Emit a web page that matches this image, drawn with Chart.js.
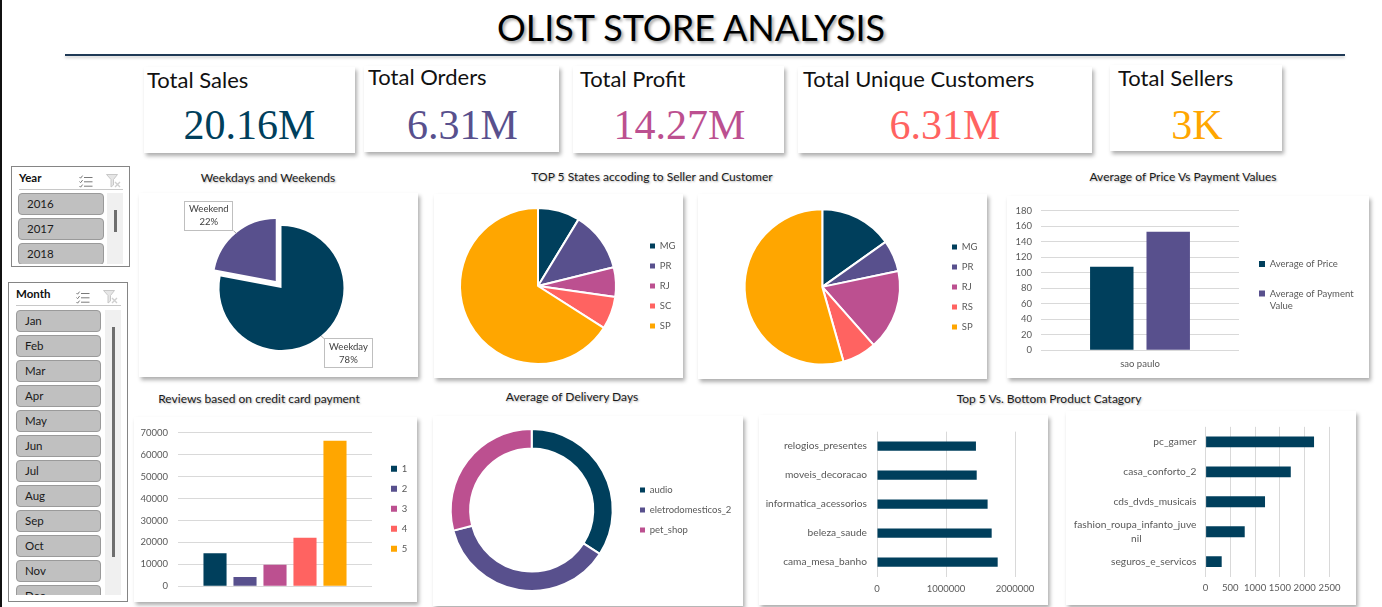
<!DOCTYPE html>
<html><head><meta charset="utf-8">
<script src="https://cdn.jsdelivr.net/npm/chart.js@4.4.1/dist/chart.umd.min.js"></script>
<style>
html,body{margin:0;padding:0;background:#fff;}
body{width:1382px;height:607px;position:relative;overflow:hidden;font-family:Lato,'Open Sans',sans-serif;}
.card{position:absolute;background:#fff;box-shadow:2px 3px 4px rgba(0,0,0,0.32);}
.card canvas{position:absolute;left:0;top:0;}
.kl{position:absolute;font-size:22px;line-height:26.4px;color:#111;white-space:nowrap;}
.kv{position:absolute;font-family:'Liberation Serif','Times New Roman',serif;font-size:42px;line-height:48px;white-space:nowrap;transform:translateX(-50%);}
.ct{position:absolute;font-size:12px;line-height:14px;color:#1a1a1a;white-space:nowrap;transform:translate(-50%,-50%);text-shadow:1px 1px 2px rgba(0,0,0,0.3);}
.slicer{position:absolute;border:1px solid #858585;box-sizing:border-box;background:#fff;}
.sh{position:absolute;font-weight:bold;font-size:11.5px;line-height:14px;color:#111;transform:translateY(-50%);}
.sline{position:absolute;height:1px;background:#c8c8c8;}
.sbtns{position:absolute;overflow:hidden;}
.sbtn{position:absolute;left:0;height:22px;box-sizing:border-box;background:#c0c0c0;border:1px solid #9a9a9a;border-radius:4px;font-size:11.5px;line-height:20px;padding-left:8px;color:#1a1a1a;}
.strack{position:absolute;background:#f0f0f0;}
.sthumb{position:absolute;background:#6e6e6e;}
.icon{position:absolute;}
</style>
</head>
<body>
<div style="position:absolute;left:0;top:0;width:2px;height:607px;background:#111;"></div>
<div style="position:absolute;left:0;width:1382px;top:6px;text-align:center;font-size:36px;line-height:43.2px;color:#000;text-shadow:2px 2px 3px rgba(0,0,0,0.35);">OLIST STORE ANALYSIS</div>
<div style="position:absolute;left:65px;top:54px;width:1280px;height:1.5px;background:#1f3a56;box-shadow:0 2px 3px rgba(0,0,0,0.2);"></div>
<div id="kpis"></div>
<div id="slicers"></div>

<div class="ct" style="left:268px;top:178px;">Weekdays and Weekends</div>
<div class="ct" style="left:652px;top:177px;">TOP 5 States accoding to Seller and Customer</div>
<div class="ct" style="left:1183px;top:177px;">Average of Price Vs Payment Values</div>
<div class="ct" style="left:259px;top:399px;">Reviews based on credit card payment</div>
<div class="ct" style="left:572px;top:397px;">Average of Delivery Days</div>
<div class="ct" style="left:1049px;top:399px;">Top 5 Vs. Bottom Product Catagory</div>

<div class="card" style="left:139px;top:193px;width:279px;height:184px;"><canvas id="c1" width="279" height="184"></canvas></div>
<div class="card" style="left:434px;top:194px;width:249px;height:184px;"><canvas id="c2" width="289" height="184"></canvas></div>
<div class="card" style="left:698px;top:194px;width:289px;height:185px;"><canvas id="c3" width="329" height="185"></canvas></div>
<div class="card" style="left:1007px;top:196px;width:362px;height:182px;"><canvas id="c4" width="402" height="182"></canvas></div>
<div class="card" style="left:134px;top:417px;width:283px;height:185px;"><canvas id="c5" width="323" height="185"></canvas></div>
<div class="card" style="left:433px;top:416px;width:310px;height:190px;"><canvas id="c6" width="350" height="190"></canvas></div>
<div class="card" style="left:759px;top:415px;width:289px;height:190px;"><canvas id="c7" width="289" height="190"></canvas></div>
<div class="card" style="left:1066px;top:411px;width:290px;height:194px;"><canvas id="c8" width="290" height="194"></canvas></div>

<script>
// ---------------- DATA ----------------
const kpiTitles = ['Total Sales','Total Orders','Total Profit','Total Unique Customers','Total Sellers'];
const kpiValues = ['20.16M','6.31M','14.27M','6.31M','3K'];
const years = ['2016','2017','2018'];
const months = ['Jan','Feb','Mar','Apr','May','Jun','Jul','Aug','Sep','Oct','Nov','Dec'];

const dayTypes = ['Weekday','Weekend'];
const dayShare = [78, 22];

const sellerStates = ['MG','PR','RJ','SC','SP'];
const sellerCounts = [244, 349, 171, 190, 1849];

const customerStates = ['MG','PR','RJ','RS','SP'];
const customerCounts = [11635, 5045, 12852, 5466, 41746];

const cityLabels = ['sao paulo'];
const avgPrice = [107.6];
const avgPayment = [153];
const priceTicks = {min:0, max:180, step:20};

const reviewScores = ['1','2','3','4','5'];
const reviewCounts = [15100, 4200, 9800, 22100, 66300];
const reviewTicks = {min:0, max:70000, step:10000};

const deliveryCats = ['audio','eletrodomesticos_2','pet_shop'];
const deliveryDays = [12.9, 13.9, 11.0];

const topCats = ['relogios_presentes','moveis_decoracao','informatica_acessorios','beleza_saude','cama_mesa_banho'];
const topSales = [1434000, 1445000, 1603000, 1662000, 1749000];
const topTicks = {min:0, max:2000000, step:1000000};

const bottomCats = ['pc_gamer','casa_conforto_2','cds_dvds_musicais','fashion_roupa_infanto_juvenil','seguros_e_servicos'];
const bottomSales = [2190, 1720, 1200, 790, 325];
const bottomTicks = {min:0, max:2500, step:500};

// ---------------- STYLE ----------------
const palette = ['#003f5c','#58508d','#bc5090','#ff6361','#ffa600'];
const gridColor = '#d9d9d9';

// KPI cards
const kpiLayout = [
  {l:144,t:67,w:211,h:86, lx:147, lb:89, vc:249.5},
  {l:364,t:66,w:195,h:86, lx:368, lb:86, vc:462.5},
  {l:573,t:66,w:211,h:87, lx:580, lb:88, vc:679.5},
  {l:798,t:67,w:294,h:86, lx:803, lb:87.5, vc:945},
  {l:1110,t:65,w:172,h:86, lx:1118, lb:86.5, vc:1197}
];
const kpiHost = document.getElementById('kpis');
kpiTitles.forEach((t,i)=>{
  const L = kpiLayout[i];
  const card = document.createElement('div');
  card.className='card'; card.style.cssText=`left:${L.l}px;top:${L.t}px;width:${L.w}px;height:${L.h}px;`;
  kpiHost.appendChild(card);
  const lab = document.createElement('div');
  lab.className='kl'; lab.textContent=t; lab.style.left=L.lx+'px'; lab.style.top=(L.lb-21.7)+'px';
  kpiHost.appendChild(lab);
  const val = document.createElement('div');
  val.className='kv'; val.textContent=kpiValues[i]; val.style.left=L.vc+'px'; val.style.top=(139.5-38.2)+'px';
  val.style.color=palette[i];
  kpiHost.appendChild(val);
});

// Slicers
const iconMulti = '<svg width="14" height="13" viewBox="0 0 14 13"><g stroke="#7a7a7a" fill="none" stroke-width="1"><path d="M0.5 2 L1.6 3.2 L3.6 0.6"/><path d="M5 2.5 H13.5"/><path d="M0.5 6.5 L1.6 7.7 L3.6 5.1"/><path d="M5 6.8 H13.5"/><path d="M0.5 11 L1.6 12.2 L3.6 9.6"/><path d="M5 11.2 H13.5"/></g></svg>';
const iconClear = '<svg width="15" height="14" viewBox="0 0 15 14"><path d="M0.5 0.5 H11.5 L7.5 5.5 V11 L5 13 V5.5 Z" fill="#e6e6e6" stroke="#c8c8c8"/><path d="M9 8 L14 13 M14 8 L9 13" stroke="#cfcfcf" stroke-width="1.4"/></svg>';
function buildSlicer(o){
  const s = document.createElement('div');
  s.className='slicer'; s.style.cssText=`left:${o.l}px;top:${o.t}px;width:${o.w}px;height:${o.h}px;`;
  s.innerHTML = `<div class="sh" style="left:7px;top:11px;">${o.title}</div>
   <div class="icon" style="left:${o.i1}px;top:5px;">${iconMulti}</div>
   <div class="icon" style="left:${o.i2}px;top:5px;">${iconClear}</div>
   <div class="sline" style="left:7px;top:22px;width:${o.lw}px;"></div>
   <div class="strack" style="left:${o.tx}px;top:${o.bt}px;width:16px;height:${o.bh}px;"></div>
   <div class="sthumb" style="left:${o.tx+7}px;top:${o.tt}px;width:2.5px;height:${o.th}px;"></div>`;
  const b = document.createElement('div');
  b.className='sbtns'; b.style.cssText=`left:${o.bl}px;top:${o.bt}px;width:${o.bw}px;height:${o.bh}px;`;
  o.items.forEach((it,i)=>{
    const d=document.createElement('div'); d.className='sbtn'; d.textContent=it;
    d.style.top=(i*25)+'px'; d.style.width=o.bw+'px'; b.appendChild(d);
  });
  s.appendChild(b);
  document.getElementById('slicers').appendChild(s);
}
buildSlicer({title:'Year', items:years, l:11,t:166,w:119,h:101, i1:67,i2:94, lw:104, bl:6, bt:26, bw:86, bh:71, tx:95, tt:43, th:22});
buildSlicer({title:'Month', items:months, l:8,t:282,w:120,h:320, i1:67,i2:94, lw:105, bl:7, bt:27, bw:85, bh:285, tx:96, tt:44, th:230});

// ---------------- CHARTS ----------------
Chart.defaults.font.family = 'Lato';
Chart.defaults.font.size = 9.5;
Chart.defaults.color = '#595959';
Chart.defaults.animation = false;
Chart.defaults.responsive = false;
Chart.defaults.plugins.tooltip.enabled = false;

const measCtx = document.createElement('canvas').getContext('2d');
function textW(s, fs){ measCtx.font = fs+'px Lato'; return measCtx.measureText(s).width; }
// natural width of a right-hand Chart.js legend (padding + box + fs/2 + widest text + 10)
function legendW(texts, pad, box, fs){
  let mw = 0;
  texts.forEach(t => (Array.isArray(t)?t:[t]).forEach(s => { mw = Math.max(mw, textW(s, fs)); }));
  return pad + box + fs/2 + mw + 10;
}
function wrapWords(text, maxChars){
  const words = text.split(' '); const lines=[]; let cur='';
  words.forEach(w=>{ if(cur && (cur+' '+w).length>maxChars){lines.push(cur);cur=w;} else cur = cur? cur+' '+w : w; });
  if(cur) lines.push(cur);
  return lines.length>1 ? lines : text;
}
const pieLabels = (chart) => Chart.overrides.doughnut.plugins.legend.labels.generateLabels(chart).map(l => Object.assign(l, {lineWidth:0}));
function pieLegend(pad, box){
  return {display:true, position:'right', maxWidth:300,
    labels:{boxWidth:box, boxHeight:box, padding:pad, color:'#595959', font:{size:9.5}, generateLabels:pieLabels}};
}
const plainNum = v => String(v);

// Weekday pie with callouts
const calloutPlugin = {
  id:'callouts',
  afterDatasetsDraw(chart){
    const ctx = chart.ctx; const ds = chart.data.datasets[0];
    const total = ds.data.reduce((a,b)=>a+b,0);
    chart.getDatasetMeta(0).data.forEach((arc,i)=>{
      const p = arc.getProps(['x','y','startAngle','endAngle','outerRadius']);
      const mid = (p.startAngle+p.endAngle)/2;
      const shift = (arc.options.offset||0)/4;
      const cx = p.x+Math.cos(mid)*shift, cy = p.y+Math.sin(mid)*shift;
      const ex = cx+Math.cos(mid)*p.outerRadius, ey = cy+Math.sin(mid)*p.outerRadius;
      const lx = cx+Math.cos(mid)*105, ly = cy+Math.sin(mid)*85;
      const bw=49, bh=30, bx=lx-bw/2, by=ly-bh/2;
      const nx=Math.min(Math.max(ex,bx),bx+bw), ny=Math.min(Math.max(ey,by),by+bh);
      ctx.save();
      ctx.strokeStyle='#a6a6a6'; ctx.lineWidth=1;
      ctx.beginPath(); ctx.moveTo(ex,ey); ctx.lineTo(nx,ny); ctx.stroke();
      ctx.fillStyle='#fff'; ctx.fillRect(bx,by,bw,bh);
      ctx.strokeStyle='#bfbfbf'; ctx.strokeRect(Math.round(bx)+0.5,Math.round(by)+0.5,bw-1,bh-1);
      ctx.fillStyle='#404040'; ctx.font='9.5px Lato'; ctx.textAlign='center'; ctx.textBaseline='middle';
      ctx.fillText(chart.data.labels[i], lx, ly-6.5);
      ctx.fillText(Math.round(ds.data[i]/total*100)+'%', lx, ly+6.5);
      ctx.restore();
    });
  }
};
new Chart(document.getElementById('c1'), {
  type:'pie',
  data:{labels:dayTypes, datasets:[{data:dayShare, backgroundColor:[palette[0],palette[1]], borderWidth:0, offset:[0,36]}]},
  options:{radius:62, layout:{padding:{left:6,right:0,top:6,bottom:0}}, plugins:{legend:{display:false}}},
  plugins:[calloutPlugin]
});

// Seller states
new Chart(document.getElementById('c2'), {
  type:'pie',
  data:{labels:sellerStates, datasets:[{data:sellerCounts, backgroundColor:palette, borderColor:'#fff', borderWidth:2}]},
  options:{radius:78, layout:{padding:{left:2.5, right:289-205.5-legendW(sellerStates,10.5,5,9.5), top:0, bottom:0}},
    plugins:{legend:pieLegend(10.5,5)}}
});

// Customer states
new Chart(document.getElementById('c3'), {
  type:'pie',
  data:{labels:customerStates, datasets:[{data:customerCounts, backgroundColor:palette, borderColor:'#fff', borderWidth:2}]},
  options:{radius:77.7, layout:{padding:{left:5.1, right:329-243.5-legendW(customerStates,10.5,5,9.5), top:0.75, bottom:0}},
    plugins:{legend:pieLegend(10.5,5)}}
});

// Average price vs payment
const c4Labels = ['Average of Price','Average of Payment Value'];
new Chart(document.getElementById('c4'), {
  type:'bar',
  data:{labels:cityLabels, datasets:[
    {label:c4Labels[0], data:avgPrice, backgroundColor:palette[0]},
    {label:c4Labels[1], data:avgPayment, backgroundColor:palette[1]}
  ]},
  options:{
    categoryPercentage:0.57, barPercentage:0.77,
    layout:{padding:{left:0, right:402-232-legendW(c4Labels.map(t=>wrapWords(t,18)),20,6,9.5), top:0, bottom:0.4}},
    scales:{
      x:{grid:{display:false, drawTicks:false}, border:{display:false}, ticks:{padding:8, color:'#595959'}, afterFit:s=>{s.height=27.3;}},
      y:{min:priceTicks.min, max:priceTicks.max, ticks:{stepSize:priceTicks.step, padding:9, color:'#595959', callback:plainNum},
         grid:{color:gridColor, drawTicks:false}, border:{display:false}, afterFit:s=>{s.width=34;}}
    },
    plugins:{
      title:{display:true, text:' ', position:'top', fullSize:false, font:{size:1, lineHeight:1}, padding:{top:11.7, bottom:0}},
      legend:{display:true, position:'right', maxWidth:300,
      labels:{boxWidth:6, boxHeight:6, padding:20, color:'#595959', font:{size:9.5, lineHeight:1.35},
        generateLabels:(chart)=>Chart.defaults.plugins.legend.labels.generateLabels(chart).map(l=>Object.assign(l,{text:wrapWords(l.text,18)}))}}}
  }
});

// Reviews
new Chart(document.getElementById('c5'), {
  type:'bar',
  data:{labels:['Total'], datasets:reviewScores.map((s,i)=>({label:s, data:[reviewCounts[i]], backgroundColor:palette[i]}))},
  options:{
    categoryPercentage:0.773, barPercentage:0.77,
    layout:{padding:{left:0, right:323-246.5-legendW(reviewScores,10.5,6,9.5), top:12.3, bottom:13.7}},
    scales:{
      x:{display:false},
      y:{min:reviewTicks.min, max:reviewTicks.max, ticks:{stepSize:reviewTicks.step, padding:10, color:'#595959', callback:plainNum},
         grid:{color:gridColor, drawTicks:false}, border:{display:false}, afterFit:s=>{s.width=44;}},
      gap:{type:'linear', position:'right', display:true, grid:{display:false, drawTicks:false}, border:{display:false}, ticks:{display:false}, afterFit:s=>{s.width=8.5;}}
    },
    plugins:{legend:{display:true, position:'right', maxWidth:300, labels:{boxWidth:6, boxHeight:6, padding:10.5, color:'#595959', font:{size:9.5}}}}
  }
});

// Delivery days donut
new Chart(document.getElementById('c6'), {
  type:'doughnut',
  data:{labels:deliveryCats, datasets:[{data:deliveryDays, backgroundColor:palette.slice(0,3), borderColor:'#fff', borderWidth:2}]},
  options:{radius:81, cutout:'76%', layout:{padding:{left:0.9, right:350-196.5-legendW(deliveryCats,10.5,5,9.5), top:0, bottom:2}},
    plugins:{legend:pieLegend(10.5,5)}}
});

// Horizontal bars
const catFont = 10.2;
function wrapTick(label, maxChars){
  if(label.length<=maxChars) return label;
  const l1=label.slice(0,maxChars), l2=label.slice(maxChars);
  const n=Math.max(0,Math.round((textW(l1,catFont)-textW(l2,catFont))/2/textW(' ',catFont)));
  return [l1, l2+' '.repeat(n)];
}
function hbar(id, cats, vals, tk, yw, yPad, xPad, pad, pct){
  new Chart(document.getElementById(id), {
    type:'bar',
    data:{labels:cats, datasets:[{label:'Sales', data:vals, backgroundColor:palette[0]}]},
    options:{
      indexAxis:'y', categoryPercentage:0.8, barPercentage:pct,
      layout:{padding:pad},
      scales:{
        x:{min:tk.min, max:tk.max, ticks:{stepSize:tk.step, padding:xPad, color:'#595959', maxRotation:0, autoSkip:false, callback:plainNum},
           grid:{color:gridColor, drawTicks:false}, border:{display:false}, afterFit:s=>{s.height=28.3;}},
        y:{grid:{display:false, drawTicks:false}, border:{display:false},
           ticks:{padding:yPad, color:'#595959', autoSkip:false, font:{size:catFont, lineHeight:1.3},
             callback:function(v){return wrapTick(this.getLabelForValue(v),26);}},
           afterFit:s=>{s.width=yw;}}
      },
      plugins:{legend:{display:false}}
    }
  });
}
hbar('c7', topCats, topSales, topTicks, 118, 10, 6.6, {left:0,right:33,top:12.7,bottom:0}, 0.4);
hbar('c8', bottomCats, bottomSales, bottomTicks, 139.6, 9.2, 5.9, {left:0,right:26.6,top:13.3,bottom:0}, 0.45);
</script>
</body></html>
